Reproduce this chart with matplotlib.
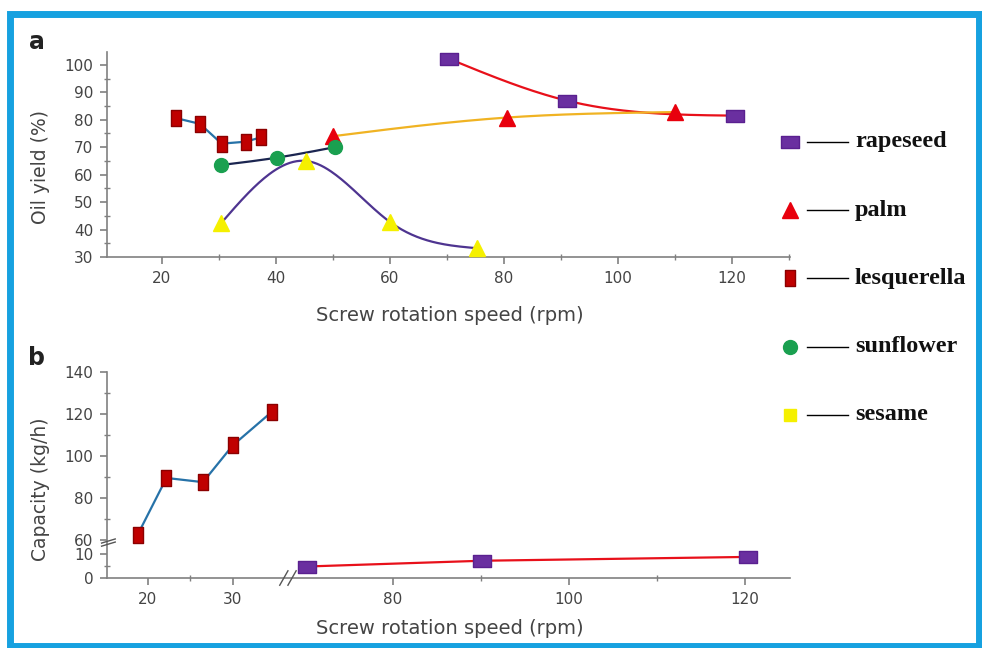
import numpy as np
import matplotlib
matplotlib.use("Agg")
import matplotlib.pyplot as plt
from matplotlib.path import Path
from matplotlib.patches import Rectangle

# ---- data ----
# panel a: oil yield (%) vs screw speed (rpm)
rape_a_x = [70.4, 91.0, 120.5]
rape_a_y = [102.2, 87.0, 81.5]
palm_x = [50.0, 80.5, 110.0]
palm_y = [74.0, 80.8, 82.8]
lesq_a_x = [22.5, 26.7, 30.5, 34.7, 37.4]
lesq_a_y = [80.6, 78.5, 71.3, 72.0, 73.6]
sun_x = [30.4, 40.2, 50.3]
sun_y = [63.5, 66.2, 70.0]
ses_x = [30.4, 45.3, 60.0, 75.3]
ses_y = [42.3, 65.0, 42.8, 33.2]

# panel b: capacity (kg/h) vs screw speed (rpm)
lesq_b_x = [18.8, 22.2, 26.5, 30.0, 34.6]
lesq_b_y = [62.4, 89.5, 87.5, 105.0, 121.0]
rape_b_x = [70.2, 90.1, 120.3]
rape_b_y = [4.8, 7.2, 8.8]

names = ["rapeseed", "palm", "lesquerella", "sunflower", "sesame"]

# ---- styles ----
C_RAPE, C_RAPE_LINE = "#6a2fa0", "#e8101a"
C_PALM, C_PALM_LINE = "#e8000d", "#f0b323"
C_LESQ, C_LESQ_LINE = "#c00000", "#2672a8"
C_SUN, C_SUN_LINE = "#1aa050", "#1b2550"
C_SES, C_SES_LINE = "#f5f000", "#4e3490"
AX_COL = "#808080"
TXT = "#444444"

# custom markers: wide box (rapeseed) and tall box (lesquerella)
wide_box = Path([(-0.5, -0.33), (0.5, -0.33), (0.5, 0.33), (-0.5, 0.33), (-0.5, -0.33)],
                [1, 2, 2, 2, 79])
tall_box = Path([(-0.3, -0.5), (0.3, -0.5), (0.3, 0.5), (-0.3, 0.5), (-0.3, -0.5)],
                [1, 2, 2, 2, 79])

marker_style = {
    "rapeseed": dict(marker=wide_box, ms=13, mfc=C_RAPE, mec="#5a2090", mew=1),
    "palm": dict(marker="^", ms=12, mfc=C_PALM, mec=C_PALM, mew=1),
    "lesquerella": dict(marker=tall_box, ms=12, mfc=C_LESQ, mec="#8b0000", mew=1),
    "sunflower": dict(marker="o", ms=10, mfc=C_SUN, mec=C_SUN, mew=1),
    "sesame": dict(marker="^", ms=11, mfc=C_SES, mec=C_SES, mew=1),
}


def spline(x, y, n=150):
    """natural cubic spline through the points, for the smooth connecting lines"""
    x = np.asarray(x, float)
    y = np.asarray(y, float)
    k = len(x)
    h = np.diff(x)
    A = np.zeros((k, k))
    r = np.zeros(k)
    A[0, 0] = A[-1, -1] = 1
    for i in range(1, k - 1):
        A[i, i - 1] = h[i - 1]
        A[i, i] = 2 * (h[i - 1] + h[i])
        A[i, i + 1] = h[i]
        r[i] = 3 * ((y[i + 1] - y[i]) / h[i] - (y[i] - y[i - 1]) / h[i - 1])
    c = np.linalg.solve(A, r)
    b = (y[1:] - y[:-1]) / h - h * (2 * c[:-1] + c[1:]) / 3
    d = (c[1:] - c[:-1]) / (3 * h)
    xs = np.linspace(x[0], x[-1], n)
    idx = np.clip(np.searchsorted(x, xs) - 1, 0, k - 2)
    dx = xs - x[idx]
    return xs, y[idx] + b[idx] * dx + c[idx] * dx ** 2 + d[idx] * dx ** 3


def style_axes(ax):
    for s in ["top", "right"]:
        ax.spines[s].set_visible(False)
    for s in ["left", "bottom"]:
        ax.spines[s].set_color(AX_COL)
        ax.spines[s].set_linewidth(1.2)
    ax.tick_params(which="major", direction="out", length=5, width=1.2,
                   color=AX_COL, labelcolor=TXT, labelsize=11, pad=5)
    ax.tick_params(which="minor", direction="inout", length=5, width=1.0, color=AX_COL)
    ax.patch.set_alpha(0)


fig = plt.figure(figsize=(9.82, 6.48), dpi=100)

# ---------------- panel a ----------------
ax = fig.add_axes([0.1090, 0.6034, 0.6955, 0.3164])
style_axes(ax)
xs, ys = spline(rape_a_x, rape_a_y)
ax.plot(xs, ys, color=C_RAPE_LINE, lw=1.6, zorder=2)
xs, ys = spline(palm_x, palm_y)
ax.plot(xs, ys, color=C_PALM_LINE, lw=1.6, zorder=2)
ax.plot(lesq_a_x, lesq_a_y, color=C_LESQ_LINE, lw=1.6, zorder=2)
xs, ys = spline(sun_x, sun_y)
ax.plot(xs, ys, color=C_SUN_LINE, lw=1.6, zorder=2)
xs, ys = spline(ses_x, ses_y)
ax.plot(xs, ys, color=C_SES_LINE, lw=1.6, zorder=2)

ax.plot(rape_a_x, rape_a_y, ls="none", zorder=3, **marker_style["rapeseed"])
ax.plot(palm_x, palm_y, ls="none", zorder=3, **marker_style["palm"])
ax.plot(lesq_a_x, lesq_a_y, ls="none", zorder=3, **marker_style["lesquerella"])
ax.plot(sun_x, sun_y, ls="none", zorder=3, **marker_style["sunflower"])
ax.plot(ses_x, ses_y, ls="none", zorder=3, **marker_style["sesame"])

ax.set_xlim(10.4, 130.2)
ax.set_ylim(30, 104.7)
ax.set_xticks(np.arange(20, 121, 20))
ax.set_xticks(np.arange(30, 131, 20), minor=True)
ax.set_yticks(np.arange(30, 101, 10))
ax.set_yticks(np.arange(35, 100, 10), minor=True)

# ---------------- panel b (broken axes via piecewise scale) ----------------
xb_p = [-1000, 15.2, 36.4, 69.1, 125.1, 1000]
xb_f = [(-1000 - 15.2) * 8.5, 0, 180, 190, 683, 683 + (1000 - 125.1) * 8.8]
yb_p = [-1000, 0, 12.5, 58, 140, 1000]
yb_f = [-1000 * 2.4, 0, 30, 34, 206.2, 206.2 + 860 * 2.1]


def xf(v):
    return np.interp(v, xb_p, xb_f)


def xi(v):
    return np.interp(v, xb_f, xb_p)


def yf(v):
    return np.interp(v, yb_p, yb_f)


def yi(v):
    return np.interp(v, yb_f, yb_p)


bx = fig.add_axes([0.1090, 0.1080, 0.6955, 0.3179])
bx.set_xscale("function", functions=(xf, xi))
bx.set_yscale("function", functions=(yf, yi))
style_axes(bx)
bx.plot(lesq_b_x, lesq_b_y, color=C_LESQ_LINE, lw=1.6, zorder=2)
bx.plot(rape_b_x, rape_b_y, color=C_RAPE_LINE, lw=1.6, zorder=2)
bx.plot(lesq_b_x, lesq_b_y, ls="none", zorder=3, **marker_style["lesquerella"])
bx.plot(rape_b_x, rape_b_y, ls="none", zorder=3, **marker_style["rapeseed"])
bx.set_xlim(15.2, 125.1)
bx.set_ylim(0, 140)
bx.set_xticks([20, 30, 80, 100, 120])
bx.set_xticks([25, 90, 110], minor=True)
bx.set_xticklabels(["20", "30", "80", "100", "120"])
bx.set_yticks([0, 10, 60, 80, 100, 120, 140])
bx.set_yticks([5, 70, 90, 110, 130], minor=True)
bx.set_yticklabels(["0", "10", "60", "80", "100", "120", "140"])

# break marks on both axes
xgap = (180 + 5) / 683
for dx in (-0.012, 0.0):
    bx.plot([xgap + dx - 0.006, xgap + dx + 0.006], [-0.035, 0.035], transform=bx.transAxes,
            color="#555555", lw=1.0, clip_on=False, zorder=5)
ygap = 36 / 206.2
for dy in (-0.01, 0.005):
    bx.plot([-0.008, 0.012], [ygap + dy - 0.01, ygap + dy + 0.01], transform=bx.transAxes,
            color="#555555", lw=1.0, clip_on=False, zorder=5)

# ---------------- texts and legend in pixel space ----------------
ov = fig.add_axes([0, 0, 1, 1], zorder=-1)
ov.set_xlim(0, 982)
ov.set_ylim(648, 0)
ov.axis("off")
ov.add_patch(Rectangle((10, 14), 969.5, 631.5, fill=False, ec="#16a1e0", lw=5.0))

fig.text(37 / 982, 1 - 42 / 648, "a", fontsize=17, fontweight="bold", color="#222222",
         ha="center", va="center")
fig.text(37 / 982, 1 - 358 / 648, "b", fontsize=17, fontweight="bold", color="#222222",
         ha="center", va="center")
fig.text(40 / 982, 1 - 167 / 648, "Oil yield (%)", fontsize=13.5, color=TXT,
         rotation=90, ha="center", va="center")
fig.text(40 / 982, 1 - 489 / 648, "Capacity (kg/h)", fontsize=13.5, color=TXT,
         rotation=90, ha="center", va="center")
fig.text(450 / 982, 1 - 316 / 648, "Screw rotation speed (rpm)", fontsize=14, color=TXT,
         ha="center", va="center")
fig.text(450 / 982, 1 - 628 / 648, "Screw rotation speed (rpm)", fontsize=14, color=TXT,
         ha="center", va="center")

leg_ax = fig.add_axes([0, 0, 1, 1], zorder=5)
leg_ax.set_xlim(0, 982)
leg_ax.set_ylim(648, 0)
leg_ax.axis("off")
for i, name in enumerate(names):
    yy = 142 + i * 68.2
    st = dict(marker_style[name])
    if name == "sesame":
        st["marker"] = "s"
        st["ms"] = 9
    leg_ax.plot([790], [yy], ls="none", **st)
    leg_ax.plot([807, 848], [yy, yy], color="black", lw=1.0)
    leg_ax.text(855, yy, name, fontsize=17.5, fontweight="bold", family="Liberation Serif",
                color="#111111", ha="left", va="center")

fig.savefig("out.png", dpi=100, facecolor="white")
